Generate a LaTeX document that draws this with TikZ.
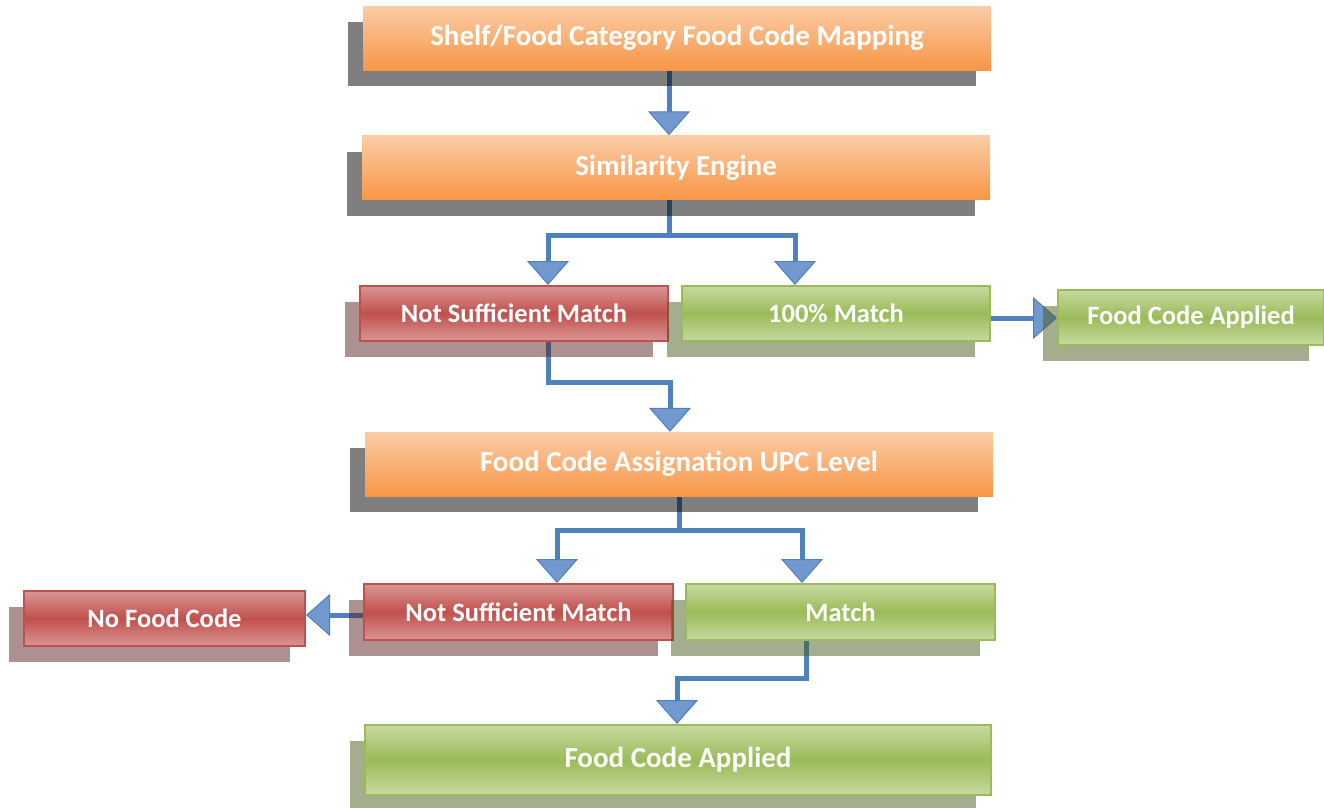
\documentclass[tikz,border=0pt]{standalone}
\usepackage{fontspec}
\setmainfont{Carlito}
\usetikzlibrary{arrows.meta,shadows}
\pgfdeclarelayer{background}
\pgfsetlayers{background,main}
\definecolor{flowblue}{HTML}{4F81BD}
\definecolor{tipblue}{HTML}{7199CE}
\definecolor{orangelt}{HTML}{FBCCA6}
\definecolor{orangedk}{HTML}{F79646}
\definecolor{redlt}{HTML}{DA9694}
\definecolor{reddk}{HTML}{C0504D}
\definecolor{greenlt}{HTML}{C6D9A0}
\definecolor{greendk}{HTML}{9BBB59}
\definecolor{redshadow}{HTML}{5B2121}
\definecolor{greenshadow}{HTML}{495B1D}

\begin{document}
\begin{tikzpicture}[x=1pt,y=-1pt,
  box/.style={inner sep=0pt,text=white,font=\bfseries\fontsize{26.5}{30}\selectfont},
  bigbox/.style={box,minimum width=628pt,minimum height=64pt,font=\bfseries\fontsize{29}{34}\selectfont},
  orangebox/.style={bigbox,top color=orangelt,bottom color=orangedk,
    drop shadow={shadow xshift=-15pt,shadow yshift=-16pt,opacity=.5,fill=black}},
  redbox/.style={box,draw=reddk,line width=2pt,top color=redlt,bottom color=redlt,middle color=reddk,
    drop shadow={shadow xshift=-15pt,shadow yshift=-16pt,opacity=.5,fill=redshadow}},
  greenbox/.style={box,draw=greendk,line width=2pt,top color=greenlt,bottom color=greenlt,middle color=greendk,
    drop shadow={shadow xshift=-15pt,shadow yshift=-16pt,opacity=.5,fill=greenshadow}},
  flow/.style={draw=flowblue,line width=5pt,-{Triangle[width=42pt,length=24pt,line width=1pt,fill=tipblue]}}]
\useasboundingbox (0,0) rectangle (1324,807);
% boxes
\node [orangebox] (map) at (677,38) {Shelf/Food Category Food Code Mapping};
\node [orangebox] (sim) at (676,167.5) {Similarity Engine};
\node [redbox,minimum width=308pt,minimum height=55pt] (nsmA) at (514,313.5) {Not Sufficient Match};
\node [greenbox,minimum width=308pt,minimum height=55pt] (full) at (836,313.5) {100\% Match};
\node [greenbox,minimum width=266pt,minimum height=55pt] (appA) at (1191,317.5) {Food Code Applied};
\node [orangebox] (upc) at (679,464) {Food Code Assignation UPC Level};
\node [redbox,minimum width=309pt,minimum height=56pt] (nsmB) at (518.5,612) {Not Sufficient Match};
\node [greenbox,minimum width=309pt,minimum height=56pt] (match) at (840.5,612) {Match};
\node [redbox,minimum width=281pt,minimum height=55pt] (nofc) at (164.5,618.5) {No Food Code};
\node [greenbox,bigbox,minimum width=626pt,minimum height=70pt] (appB) at (678,760) {Food Code Applied};
% connectors
\coordinate (splitA) at (669,235);
\coordinate (joinA) at (548,382);
\coordinate (splitB) at (679,530);
\coordinate (joinB) at (806,678);
\begin{pgfonlayer}{background}
\draw [flow] (map.south -| 669,0) -- (sim.north -| 669,0);
\draw [flow] (sim.south -| 669,0) -- (splitA) -| (nsmA.north -| 548,0);
\draw [flow] (splitA) -| (full.north -| 795,0);
\draw [flow] (full.east |- 0,318) -- (appA.west |- 0,318);
\draw [flow] (nsmA.south -| 548,0) -- (joinA) -| (upc.north -| 670,0);
\draw [flow] (upc.south -| 679,0) -- (splitB) -| (nsmB.north -| 557,0);
\draw [flow] (splitB) -| (match.north -| 802,0);
\draw [flow] (nsmB.west |- 0,615) -- (nofc.east |- 0,615);
\draw [flow] (match.south -| 806,0) -- (joinB) -| (appB.north -| 677,0);
\end{pgfonlayer}
\end{tikzpicture}
\end{document}
